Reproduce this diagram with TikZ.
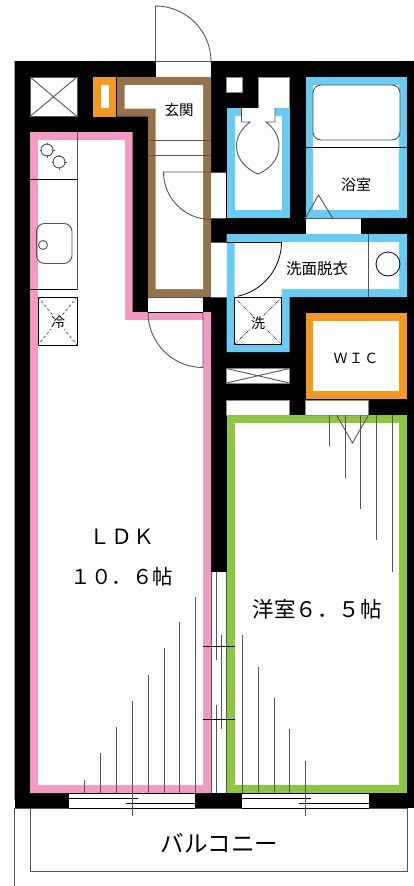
\documentclass[tikz,border=0pt]{standalone}
\usepackage{fontspec}
\setmainfont{Noto Sans CJK JP}[Scale=1.0]
\definecolor{pinkc}{HTML}{F29AC2}
\definecolor{brownc}{HTML}{94734C}
\definecolor{bluec}{HTML}{67CBF2}
\definecolor{orangec}{HTML}{F5981F}
\definecolor{greenc}{HTML}{8DC63F}
\definecolor{roomc}{HTML}{FDFDFD}
\definecolor{linec}{HTML}{555555}
\tikzset{
  thin line/.style={draw=linec,line width=0.9pt},
  dark line/.style={draw=black,line width=0.8pt},
  opening/.style={fill=white,draw=linec!70,line width=0.7pt},
  lbl/.style={inner sep=0pt,text=black}
}
\newcommand{\fs}[1]{\fontsize{#1pt}{#1pt}\selectfont}
\begin{document}
\begin{tikzpicture}[x=1pt,y=-1pt]
\useasboundingbox (0,0) rectangle (414,886);
\fill[white] (0,0) rectangle (414,886);
% building block
\fill[black] (14.5,61) rectangle (414,808);
\draw[black!35,line width=1pt] (14.5,61) -- (14.5,800);
% balcony
\draw[thin line] (14.5,808) -- (14.5,886);
\draw[thin line] (30,808) -- (30,871.5) -- (407.5,871.5) -- (407.5,808);
% entrance door
\fill[white] (155.5,61) rectangle (211,77);
\draw[thin line] (155.5,61) -- (155.5,6) arc[start angle=-90,end angle=0,radius=55.5];
\draw[thin line] (155.5,61) -- (211,61);
% vent
\filldraw[fill=white,draw=linec] (30,77) rectangle (77,116.5);
\draw[thin line] (30,77) -- (77,116.5) (77,77) -- (30,116.5);
% orange shaft
\fill[orangec] (93,77) rectangle (116,116.5);
\fill[white] (100.5,85) rectangle (108.5,108);
% entry (brown)
\fill[brownc] (117,77) -- (211,77) -- (211,297) -- (148,297) -- (148,116.5) -- (117,116.5) -- cycle;
\fill[roomc] (124.5,85) -- (203,85) -- (203,289) -- (155.5,289) -- (155.5,108.5) -- (124.5,108.5) -- cycle;
\draw[thin line] (148,140) -- (211,140) (148,155.5) -- (211,155.5);
% LDK (pink)
\fill[pinkc] (30,132) -- (132.5,132) -- (132.5,312) -- (211,312) -- (211,793) -- (30,793) -- cycle;
\fill[roomc] (38,140) -- (125,140) -- (125,320) -- (203,320) -- (203,785) -- (38,785) -- cycle;
% kitchen
\draw[thin line] (77,132) -- (77,289.5);
\draw[dark line] (30,179) -- (77,179) (30,289.5) -- (77,289.5);
\foreach \c/\d in {47/150,59/162}{
  \draw[thin line] (\c,\d) circle[radius=6];
  \draw[thin line] (\c-7.5,\d) -- (\c-5,\d) (\c+5,\d) -- (\c+7.5,\d) (\c,\d-7.5) -- (\c,\d-5) (\c,\d+5) -- (\c,\d+7.5);
}
\draw[thin line,rounded corners=8pt] (36.5,223.5) rectangle (72,263.5);
\draw[thin line] (43,245) circle[radius=4.5];
% fridge
\draw[dark line,fill=roomc] (38,297) rectangle (77,345);
\draw[linec,densely dashed,line width=0.7pt] (38,297) -- (77,345) (77,297) -- (38,345);
\node[lbl,fill=roomc,inner sep=0.5pt] (fridge) at (58,322) {\fs{14}冷};
% LDK door
\fill[white] (148,297) rectangle (203,312);
\draw[thin line] (148,297) -- (203,297);
\draw[dark line] (148,312) -- (203,312);
\draw[thin line] (203,312) -- (203,367.5) arc[start angle=90,end angle=180,radius=55];
% inner door entry
\fill[white] (211,172) rectangle (226,218);
\draw[thin line] (211,172) -- (226,172) (211,218) -- (226,218);
\draw[thin line] (211,172) -- (163.5,172) arc[start angle=180,end angle=90,radius=47.5];
% small whites
\filldraw[fill=white,draw=linec!70] (226.5,77) rectangle (242,92.5);
\filldraw[fill=white,draw=linec!70] (258,77) rectangle (289.5,108);
% toilet
\fill[bluec] (226.5,108) rectangle (289.5,218);
\fill[roomc] (234.5,116) rectangle (281.5,210);
\draw[thin line,fill=roomc] (241.5,108) -- (241.5,122) -- (250,122) .. controls (241,129) and (236.5,137) .. (236.5,146) .. controls (236.5,159) and (246,169) .. (258,174) .. controls (270,169) and (279,159) .. (279,146) .. controls (279,137) and (275,129) .. (266,122) -- (275,122) -- (275,108);
% bath
\fill[bluec] (305.5,77) rectangle (407,218);
\fill[roomc] (313,85) rectangle (399,210);
\draw[thin line,fill=roomc,rounded corners=8pt] (313,85) rectangle (400,140);
\draw[dark line] (305.5,147.5) -- (407,147.5);
\fill[white] (305.5,218) rectangle (360.5,234);
\draw[thin line] (305.5,218) -- (318.5,195) -- (332.5,218);
\draw[thin line] (305.5,218) -- (360.5,218);
% wash room
\fill[bluec] (226.5,234) -- (407,234) -- (407,297) -- (289.5,297) -- (289.5,352) -- (226.5,352) -- cycle;
\fill[roomc] (234.5,242) -- (399,242) -- (399,289) -- (281.5,289) -- (281.5,344) -- (234.5,344) -- cycle;
\draw[thin line] (368,234) -- (368,297);
\draw[dark line] (388,264) circle[radius=12];
\fill[white] (211,242) rectangle (226.5,297);
\draw[thin line] (211,242) -- (226.5,242) (211,297) -- (226.5,297);
\draw[dark line] (226.5,242) -- (281.5,242);
\draw[dark line] (281.5,242) arc[start angle=0,end angle=78,radius=55.5];
% washer pan
\draw[dark line,fill=roomc] (234.5,297.5) rectangle (281.5,344.5);
\draw[black,densely dotted,line width=0.7pt] (234.5,297.5) -- (281.5,344.5) (281.5,297.5) -- (234.5,344.5);
\node[lbl,fill=roomc,inner sep=0.5pt] (washer) at (258,323) {\fs{14}洗};
% vent 2
\filldraw[fill=white,draw=linec!70] (226.5,368.5) rectangle (289.5,383);
\draw[thin line] (226.5,368.5) -- (289.5,383) (289.5,368.5) -- (226.5,383);
% openings
\filldraw[opening] (226.5,400) rectangle (289.5,415);
% WIC
\fill[orangec] (305.5,313) rectangle (407,399);
\fill[white] (313,321) rectangle (399,391);
% bedroom (green)
\fill[greenc] (226.5,415) rectangle (407,793);
\fill[roomc] (234.5,423) rectangle (399,785);
\filldraw[opening] (305.5,400) rectangle (368.5,415);
% closet door lines
\foreach \c/\e in {329/446,345/478,360/509,376/540,392/572}{\draw[thin line] (\c,415) -- (\c,\e);}
\draw[thin line] (336.5,415) -- (352.5,443) -- (368.5,415);
% LDK side window slot
\fill[white] (211,572) rectangle (226.5,793);
\draw[thin line] (211,572) -- (211,793) (226.5,572) -- (226.5,793);
\draw[thin line] (216,572) -- (216,660) (216,705) -- (216,793) (221,635) -- (221,729);
\draw[dark line] (203,646) -- (234.5,646) (203,719) -- (234.5,719);
% balcony windows
\fill[white] (69,793) rectangle (195,808);
\fill[white] (242,793) rectangle (368.5,808);
\draw[dark line] (69,798) -- (138,798) (126,803) -- (195,803);
\draw[dark line] (69,793) -- (195,793) (69,808) -- (195,808);
\draw[dark line] (242,798) -- (311,798) (299,803) -- (368.5,803);
\draw[dark line] (242,793) -- (368.5,793) (242,808) -- (368.5,808);
\draw[thin line] (14.5,808) -- (69,808) (195,808) -- (242,808) (368.5,808) -- (407.5,808);
% sliding lines
\foreach \c/\e in {84.5/780,100.5/753,116.5/727,148/675,164/648,179.5/622,195/597,242/635,258/667,274/698,289.5/729}{\draw[thin line] (\c,793) -- (\c,\e);}
\draw[thin line] (132,816) -- (132,701);
\draw[thin line] (305,816) -- (305,761);
% labels
\node[lbl] (entry) at (179,110) {\fs{14.5}玄関};
\node[lbl] (bath) at (356,185) {\fs{15}浴室};
\node[lbl] (wash) at (317,269) {\fs{15.5}洗面脱衣};
\node[lbl] (wic) at (356,358) {\fs{14}Ｗ\hspace{0.1em}Ｉ\hspace{0.1em}Ｃ};
\node[lbl] (ldk) at (122,537) {\fs{21}Ｌ\hspace{0.05em}Ｄ\hspace{0.05em}Ｋ};
\node[lbl] (ldksize) at (122,577) {\fs{20.5}１０．６帖};
\node[lbl] (bed) at (317,609) {\fs{21.5}洋室６．５帖};
\node[lbl] (balcony) at (219.5,843) {\fs{23.5}バルコニー};
\end{tikzpicture}
\end{document}
